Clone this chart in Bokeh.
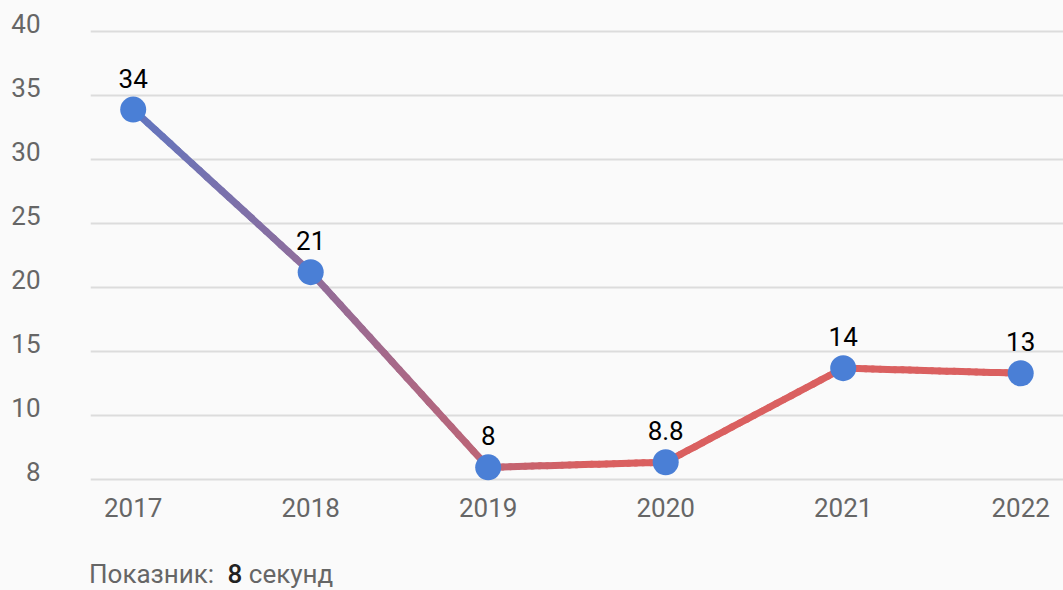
import numpy as np
from bokeh.plotting import figure
from bokeh.models import (FixedTicker, LabelSet, ColumnDataSource, Range1d,
                          CustomJSTickFormatter, Div)
from bokeh.layouts import column
from bokeh.core.properties import value
from bokeh.embed import file_html
from bokeh.resources import INLINE

# ---- data ----
years = [2017, 2018, 2019, 2020, 2021, 2022]
year_labels = ["2017", "2018", "2019", "2020", "2021", "2022"]
# plotted positions
values = [33.9, 21.2, 5.95, 6.35, 13.7, 13.3]
# value labels as printed on the chart
value_labels = ["34", "21", "8", "8.8", "14", "13"]
y_ticks = [5, 10, 15, 20, 25, 30, 35, 40]
y_tick_labels = ["8", "10", "15", "20", "25", "30", "35", "40"]
caption_label = "Показник:"
caption_value = "8"
caption_unit = "секунд"

BG = "#fafafa"
FONT = "Roboto"
PX = 12.8      # pixels per y unit
XPX = 177.5    # pixels per year

W, H = 1063, 540
p = figure(width=W, height=H, output_backend="svg", toolbar_location=None,
           x_range=Range1d(2017 - 42.7 / XPX, 2017 + 930.3 / XPX),
           y_range=Range1d(5 - 3 / PX, 40 + 31 / PX),
           min_border_left=90, min_border_right=0, min_border_top=0,
           min_border_bottom=58)
p.background_fill_color = BG
p.border_fill_color = BG
p.outline_line_color = None

p.xgrid.grid_line_color = None
p.ygrid.ticker = FixedTicker(ticks=y_ticks)
p.ygrid.grid_line_color = "#dcdcdc"
p.ygrid.grid_line_width = 2

# y axis: labels sit just above their grid lines
ya = p.yaxis[0]
ya.ticker = FixedTicker(ticks=[t + 0.6 for t in y_ticks])
ya.formatter = CustomJSTickFormatter(args=dict(labels=y_tick_labels),
                                     code="return labels[index];")
ya.axis_line_color = None
ya.major_tick_line_color = None
ya.minor_tick_line_color = None
ya.major_tick_out = 0
ya.major_tick_in = 0
ya.major_label_standoff = 50
ya.major_label_text_font = FONT
ya.major_label_text_font_size = "26px"
ya.major_label_text_color = "#666666"

xa = p.xaxis[0]
xa.ticker = FixedTicker(ticks=years)
xa.major_label_overrides = {y: l for y, l in zip(years, year_labels)}
xa.axis_line_color = None
xa.major_tick_line_color = None
xa.minor_tick_line_color = None
xa.major_tick_out = 0
xa.major_tick_in = 0
xa.major_label_standoff = 15
xa.major_label_text_font = FONT
xa.major_label_text_font_size = "26px"
xa.major_label_text_color = "#666666"

# gradient line (colour varies along x)
c0 = np.array([98, 118, 192])
c1 = np.array([218, 96, 96])
xs_list, ys_list, cols = [], [], []
n = 24
for i in range(len(years) - 1):
    xa_, xb_ = years[i], years[i + 1]
    ya_, yb_ = values[i], values[i + 1]
    for k in range(n):
        f0, f1 = k / n, (k + 1) / n
        x0 = xa_ + (xb_ - xa_) * f0
        x1 = xa_ + (xb_ - xa_) * f1
        y0 = ya_ + (yb_ - ya_) * f0
        y1 = ya_ + (yb_ - ya_) * f1
        tt = np.clip(((x0 + x1) / 2 - 2017) / (2019.6 - 2017), 0, 1)
        c = (c0 + (c1 - c0) * tt).astype(int)
        xs_list.append([x0, x1])
        ys_list.append([y0, y1])
        cols.append("#%02x%02x%02x" % tuple(c))
p.multi_line(xs_list, ys_list, line_color=cols, line_width=7, line_cap="round")

src = ColumnDataSource(dict(x=years, y=values, t=value_labels))
p.scatter("x", "y", source=src, size=26, fill_color="#4a7fd6", line_color=None)

p.add_layout(LabelSet(x="x", y="y", text="t", source=src, y_offset=22,
                      text_align="center", text_baseline="alphabetic",
                      text_font=value(FONT), text_font_size=value("26px"),
                      text_color="#000000"))

cap_html = (
    '<div style="font-family: Roboto, sans-serif; font-size: 26px; '
    'line-height: 30px; color: #666666; padding: 19px 0 0 89px; '
    'white-space: nowrap;">'
    f'{caption_label} <span style="color:#222222; font-weight: 500; '
    f'margin-left: 7px;">{caption_value}</span> {caption_unit}</div>'
)
cap = Div(text=cap_html, width=W, height=590 - H, margin=(0, 0, 0, 0),
          styles={"background-color": BG, "font-family": "Roboto",
                  "font-size": "26px", "color": "#666666"})

layout = column(p, cap, spacing=0)
layout.styles = {"background-color": BG}
open("out.html", "w").write(file_html(layout, INLINE))
